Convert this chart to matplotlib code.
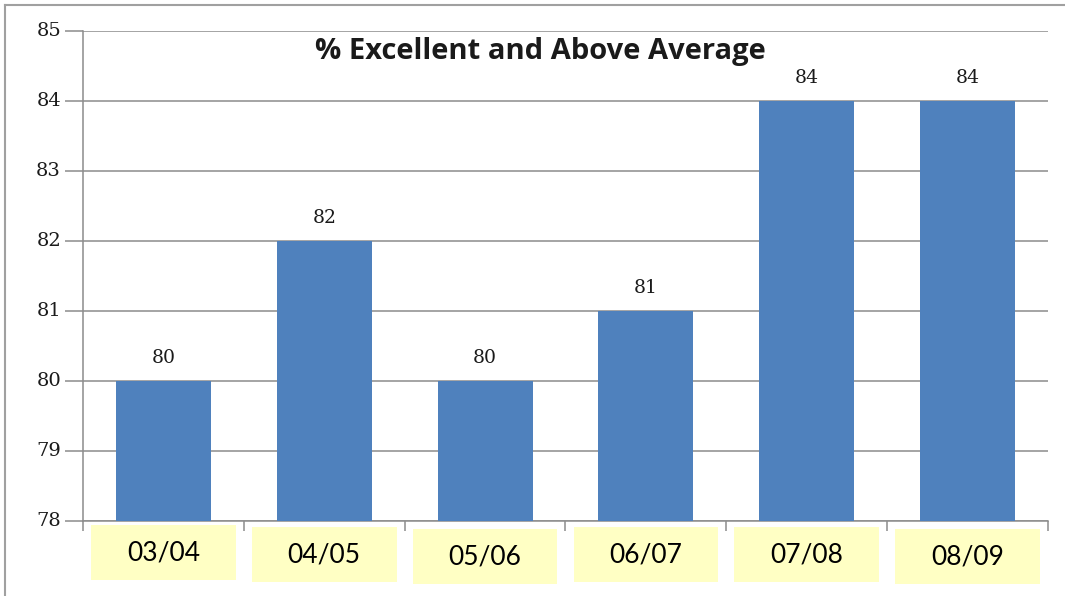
import matplotlib.pyplot as plt
from matplotlib.patches import Rectangle
from matplotlib.lines import Line2D
import matplotlib.transforms as mtransforms

categories = ["03/04", "04/05", "05/06", "06/07", "07/08", "08/09"]
values = [80, 82, 80, 81, 84, 84]
yticks = [78, 79, 80, 81, 82, 83, 84, 85]
title = "% Excellent and Above Average"

W, H = 1065, 596
fig = plt.figure(figsize=(W / 100, H / 100), dpi=100)
ax = fig.add_axes([83 / W, (H - 521) / H, (1048 - 83) / W, (521 - 31) / H])

x = list(range(len(categories)))
ax.bar(x, [v - 78 for v in values], bottom=78, width=0.59, color="#4F81BD", zorder=3)

ax.set_xlim(-0.5, len(categories) - 0.5)
ax.set_ylim(78, 85)
ax.set_yticks(yticks)
ax.set_yticklabels([])
ax.yaxis.grid(True, color="#8c8c8c", linewidth=1.1, zorder=0)
for s in ["top", "right"]:
    ax.spines[s].set_visible(False)
for s in ["left", "bottom"]:
    ax.spines[s].set_color("#8c8c8c")
    ax.spines[s].set_linewidth(1.1)
ax.tick_params(axis="y", length=13, width=1.1, color="#8c8c8c")
ax.set_xticks([i - 0.5 for i in range(len(categories) + 1)])
ax.set_xticklabels([])
ax.tick_params(axis="x", length=7, width=1.1, color="#8c8c8c")

# y tick labels (serif, like the original)
ytrans = mtransforms.blended_transform_factory(fig.transFigure, ax.transData)
for t in yticks:
    ax.text(61 / W, t, str(t), transform=ytrans, ha="right", va="center",
            fontsize=14, family="DejaVu Serif", color="#1a1a1a", clip_on=False)

for xi, v in zip(x, values):
    ax.annotate(str(v), (xi, v), xytext=(0, 10), textcoords="offset points",
                ha="center", va="bottom", fontsize=13.5, family="DejaVu Serif",
                color="#1a1a1a")

ax.text(0.474, 0.958, title, transform=ax.transAxes, ha="center", va="center",
        fontsize=21, fontweight="bold", family="Open Sans", color="#1a1a1a")

# yellow label boxes under the axis
box_tops = [525, 527, 529, 527, 527, 529]
trans = mtransforms.blended_transform_factory(ax.transData, fig.transFigure)
for xi, cat, top in zip(x, categories, box_tops):
    y0 = (H - top - 55) / H
    ax.add_patch(Rectangle((xi - 0.45, y0), 0.9, 55 / H, transform=trans,
                           facecolor="#FFFFC4", edgecolor="none", clip_on=False))
    ax.text(xi, y0 + 27 / H, cat, transform=trans, ha="center", va="center",
            fontsize=19, family="Lato", color="black")

# outer frame
fig.add_artist(Line2D([5 / W, 1.0], [1 - 5 / H] * 2, color="#a0a0a0", linewidth=1.5))
fig.add_artist(Line2D([5 / W] * 2, [0, 1 - 5 / H], color="#a0a0a0", linewidth=1.5))

fig.savefig("out.png", dpi=100)
